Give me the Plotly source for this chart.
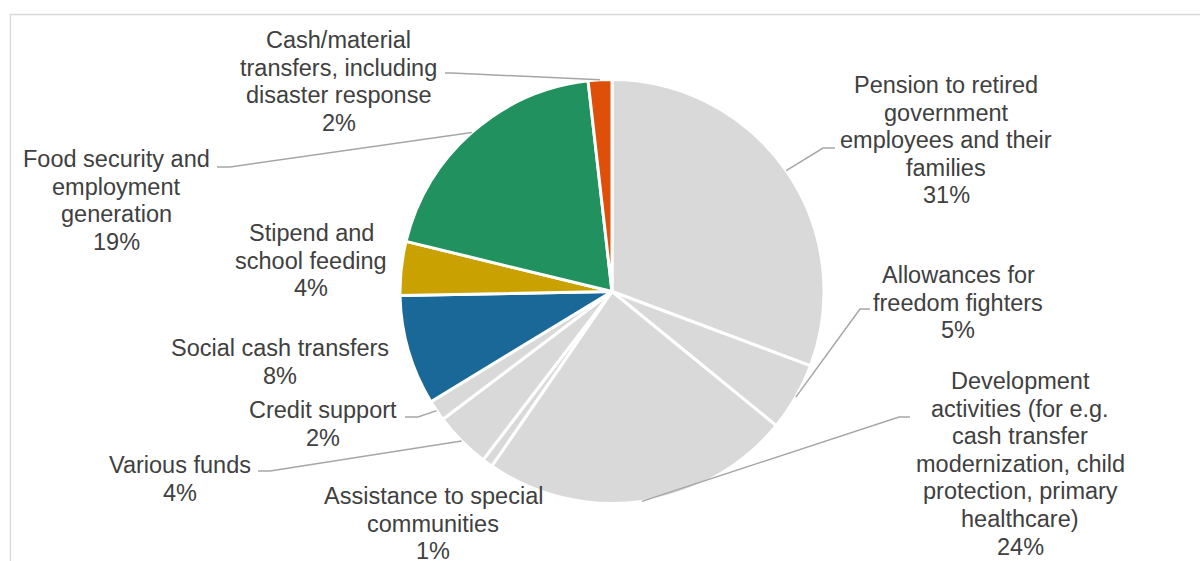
import math
import plotly.graph_objects as go

# ---- data ----
categories = [
    "Pension to retired government employees and their families",
    "Allowances for freedom fighters",
    "Development activities (for e.g. cash transfer modernization, child protection, primary healthcare)",
    "Assistance to special communities",
    "Various funds",
    "Credit support",
    "Social cash transfers",
    "Stipend and school feeding",
    "Food security and employment generation",
    "Cash/material transfers, including disaster response",
]
values = [30.7, 5.2, 23.7, 0.8, 4.3, 1.6, 8.4, 4.1, 19.4, 1.8]
# wrapped label lines as shown on the chart
label_lines = [
    ["Pension to retired", "government", "employees and their", "families"],
    ["Allowances for", "freedom fighters"],
    ["Development", "activities (for e.g.", "cash transfer", "modernization, child", "protection, primary", "healthcare)"],
    ["Assistance to special", "communities"],
    ["Various funds"],
    ["Credit support"],
    ["Social cash transfers"],
    ["Stipend and", "school feeding"],
    ["Food security and", "employment", "generation"],
    ["Cash/material", "transfers, including", "disaster response"],
]
colors = ["#D9D9D9", "#D9D9D9", "#D9D9D9", "#D9D9D9", "#D9D9D9", "#D9D9D9",
          "#1A6898", "#C9A100", "#21915F", "#DE5009"]

# ---- layout (pixels) ----
W, H = 1200, 561
CX, CY, R = 612, 291.5, 212
LINE_H = 27.6
FONT = dict(family="Liberation Sans, Arial, sans-serif", size=23.5, color="#404040")
# label block: center x, center y of first line, leader elbow (x,y) and horizontal end x (or None)
label_layout = [
    (946, 85, (823, 148), 835),
    (958, 275, (860, 309), 870),
    (1020, 381, (899, 417), 910),
    (433, 496, None, None),
    (180, 465, (270, 471), 258),
    (323, 410, (418, 417), 405),
    (280, 348, None, None),
    (311, 233, None, None),
    (116, 159, (230, 167), 217),
    (339, 40, (452, 73), 445),
]


def px(x):
    return x / W


def py(y):
    return 1 - y / H


fig = go.Figure(go.Pie(
    labels=categories,
    values=values,
    sort=False,
    direction="clockwise",
    rotation=0,
    marker=dict(colors=colors, line=dict(color="white", width=3)),
    textinfo="none",
    hoverinfo="label+percent",
    showlegend=False,
    domain=dict(x=[px(CX - R), px(CX + R)], y=[py(CY + R), py(CY - R)]),
))

total = sum(values)
annotations = []
shapes = []
cum = 0.0
for i, v in enumerate(values):
    mid = (cum + v / 2) / total
    cum += v
    ang = mid * 2 * math.pi
    ex_, ey_ = CX + R * math.sin(ang), CY - R * math.cos(ang)
    cx, cy0, elbow, hend = label_layout[i]
    pct = f"{round(v / total * 100)}%"
    lines = label_lines[i] + [pct]
    for j, t in enumerate(lines):
        annotations.append(dict(
            x=px(cx), y=py(cy0 + j * LINE_H), xref="paper", yref="paper",
            text=t, showarrow=False, xanchor="center", yanchor="middle",
            font=FONT,
        ))
    if elbow is not None:
        path = f"M {px(ex_)} {py(ey_)} L {px(elbow[0])} {py(elbow[1])} L {px(hend)} {py(elbow[1])}"
        shapes.append(dict(type="path", path=path, xref="paper", yref="paper",
                           line=dict(color="#A6A6A6", width=1.5)))

# chart frame
shapes.append(dict(type="rect", xref="paper", yref="paper",
                   x0=px(10.5), x1=px(1215), y0=py(590), y1=py(14.5),
                   line=dict(color="#D9D9D9", width=1.3), layer="below"))

fig.update_layout(
    width=W, height=H,
    margin=dict(l=0, r=0, t=0, b=0),
    paper_bgcolor="white", plot_bgcolor="white",
    annotations=annotations,
    shapes=shapes,
)

fig.write_html("out.html")
